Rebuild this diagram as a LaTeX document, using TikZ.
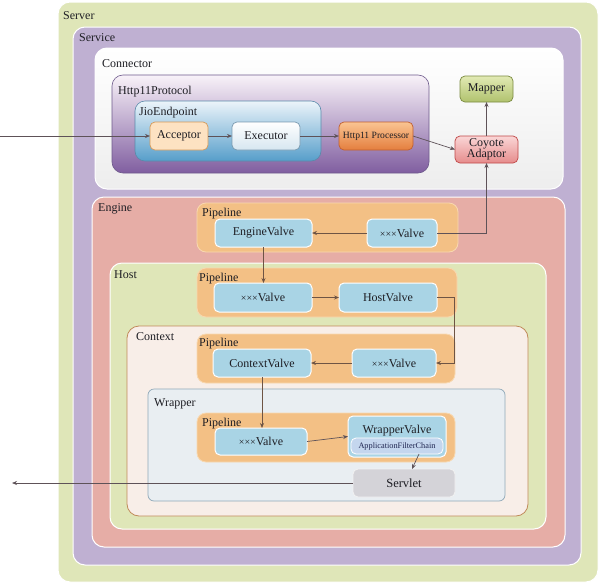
\documentclass[tikz,border=0pt]{standalone}
\usepackage{fontspec}
\setmainfont{Liberation Serif}
\usetikzlibrary{arrows.meta,calc}
\definecolor{serverC}{HTML}{DFE6B8}
\definecolor{serviceC}{HTML}{BFB0D2}
\definecolor{engineC}{HTML}{E6ADA6}
\definecolor{hostC}{HTML}{DFE6B8}
\definecolor{contextC}{HTML}{F8EEE8}
\definecolor{contextB}{HTML}{C08A5A}
\definecolor{wrapperC}{HTML}{E9EEF2}
\definecolor{wrapperB}{HTML}{8FA8B8}
\definecolor{pipeC}{HTML}{F3C085}
\definecolor{pipeB}{HTML}{F8D8B0}
\definecolor{valveC}{HTML}{A9D4E5}
\definecolor{servletC}{HTML}{D4D3D8}
\definecolor{arrC}{HTML}{5E5258}
\definecolor{arrE}{HTML}{6E5444}
\definecolor{txtC}{HTML}{1E1E24}
\tikzset{
  base/.style={anchor=north west, inner sep=0pt, outer sep=0pt},
  cont/.style={base, draw=white, line width=1pt, rounded corners=12pt},
  lbl/.style={anchor=base west, inner sep=0pt, text=txtC, font=\fontsize{12}{12}\selectfont},
  pipe/.style={base, fill=pipeC, draw=pipeB, line width=0.8pt, rounded corners=9pt},
  valve/.style={base, fill=valveC, draw=white, line width=1pt, rounded corners=5pt, text=txtC, font=\fontsize{12}{12}\selectfont},
  sbox/.style={base, line width=0.7pt, rounded corners=5pt, text=txtC, font=\fontsize{12}{12}\selectfont},
  arr/.style={draw=arrC, line width=0.7pt, -{Stealth[length=5pt,width=4pt]}},
  arre/.style={draw=arrE, line width=0.7pt, -{Stealth[length=5pt,width=4pt]}},
}
\newcommand{\bx}[7]{\node[#6, minimum width={#4pt-#2pt}, minimum height={#5pt-#3pt}] (#1) at (#2,#3) {#7};}
\newcommand{\xxx}{{\fontsize{10}{10}\selectfont ×××}}
\begin{document}
\begin{tikzpicture}[x=1pt,y=-1pt]
\useasboundingbox (0,0) rectangle (600,584);
% containers
\bx{server}{58}{2}{598}{582}{cont, fill=serverC}{}
\node[lbl] (serverL) at (63,19) {Server};
\bx{service}{73}{27}{581}{565}{cont, fill=serviceC}{}
\node[lbl] (serviceL) at (79,41) {Service};
\bx{connector}{95}{48}{563}{189}{cont, top color=white, bottom color=black!7}{}
\node[lbl] (connectorL) at (102,67) {Connector};
\bx{http}{112}{75}{429}{173}{base, rounded corners=11pt, draw={rgb,255:red,110;green,90;blue,140}, line width=0.6pt, top color=violet!5!white, bottom color={rgb,255:red,128;green,94;blue,160}}{}
\node[lbl] (httpL) at (118,94) {Http11Protocol};
\bx{jio}{135}{101}{321}{161}{base, rounded corners=10pt, draw={rgb,255:red,90;green,138;blue,170}, line width=0.6pt, top color={rgb,255:red,236;green,244;blue,250}, bottom color={rgb,255:red,86;green,158;blue,202}}{}
\node[lbl] (jioL) at (139,115) {JioEndpoint};
\bx{acc}{150}{122}{208}{150}{sbox, fill={rgb,255:red,253;green,226;blue,194}, draw={rgb,255:red,213;green,154;blue,90}}{Acceptor}
\bx{exe}{232}{122}{300}{150}{sbox, top color=white, bottom color={rgb,255:red,214;green,230;blue,240}, draw={rgb,255:red,122;green,154;blue,176}}{Executor}
\bx{proc}{339}{122}{413}{150}{sbox, top color={rgb,255:red,250;green,196;blue,146}, bottom color={rgb,255:red,228;green,126;blue,62}, draw={rgb,255:red,192;green,96;blue,48}, font=\fontsize{9.6}{10}\selectfont}{Http11 Processor}
\bx{coy}{455}{136}{518}{163}{sbox, top color={rgb,255:red,250;green,214;blue,214}, bottom color={rgb,255:red,230;green,140;blue,140}, draw={rgb,255:red,192;green,72;blue,72}, align=center, font=\fontsize{12}{11.5}\selectfont}{Coyote\\Adaptor}
\bx{map}{460}{76}{513}{102}{sbox, top color={rgb,255:red,226;green,234;blue,180}, bottom color={rgb,255:red,176;green,194;blue,110}, draw={rgb,255:red,122;green,138;blue,64}}{Mapper}
% engine
\bx{engine}{92}{197}{565}{547}{cont, fill=engineC}{}
\node[lbl] (engineL) at (98,211) {Engine};
\bx{epipe}{197}{203}{458}{252}{pipe}{}
\node[lbl] (epipeL) at (202,216) {Pipeline};
\bx{ev1}{215}{219}{312}{247}{valve}{EngineValve}
\bx{ev2}{367}{219}{437}{247}{valve}{\xxx Valve}
% host
\bx{host}{110}{263}{546}{529}{cont, fill=hostC}{}
\node[lbl] (hostL) at (114,278) {Host};
\bx{hpipe}{197}{268}{457}{317}{pipe}{}
\node[lbl] (hpipeL) at (199,281) {Pipeline};
\bx{hv1}{214}{283}{312}{312}{valve}{\xxx Valve}
\bx{hv2}{339}{283}{437}{312}{valve}{HostValve}
% context
\bx{context}{127}{326}{528}{516}{base, rounded corners=12pt, fill=contextC, draw=contextB, line width=0.8pt}{}
\node[lbl] (contextL) at (136,340) {Context};
\bx{cpipe}{197}{334}{455}{383}{pipe}{}
\node[lbl] (cpipeL) at (199,346) {Pipeline};
\bx{cv1}{213}{349}{311}{377}{valve}{ContextValve}
\bx{cv2}{352}{349}{436}{377}{valve}{\xxx Valve}
% wrapper
\bx{wrapper}{148}{389}{505}{501}{base, rounded corners=6pt, fill=wrapperC, draw=wrapperB, line width=0.7pt}{}
\node[lbl] (wrapperL) at (154,406) {Wrapper};
\bx{wpipe}{197}{413}{455}{462}{pipe}{}
\node[lbl] (wpipeL) at (202,426) {Pipeline};
\bx{wv1}{215}{428}{307}{455}{valve}{\xxx Valve}
\bx{wv2}{348}{416}{446}{457}{valve}{}
\node[anchor=base, inner sep=0pt, text=txtC, font=\fontsize{12}{12}\selectfont] (wv2L) at (397,433) {WrapperValve};
\bx{afc}{351}{438}{443}{454}{base, rounded corners=5pt, fill={rgb,255:red,196;green,214;blue,238}, draw=white, line width=0.8pt, text={rgb,255:red,30;green,36;blue,80}, font=\fontsize{8.3}{9}\selectfont}{ApplicationFilterChain}
\bx{servlet}{353}{469}{455}{497}{base, rounded corners=5pt, fill=servletC, draw=white!90!gray, line width=0.8pt, text=txtC, font=\fontsize{12.5}{12}\selectfont}{Servlet}
% connectors
\coordinate (in) at (0,136);
\coordinate (out) at (12,483);
\draw[arr] (in) -- (acc.west);
\draw[arr] (acc) -- (exe);
\draw[arr] (exe) -- (proc);
\draw[arr] (proc.east) -- (coy.west);
\draw[arr] (coy) -- (map);
\draw[arr] (ev2.east) -| (coy.south);
\draw[arre] (ev2) -- (ev1);
\draw[arre] (ev1.south) -- (ev1.south |- hv1.north);
\draw[arre] (hv1) -- (hv2);
\draw[arre] (hv2.east) -- ++(17,0) |- (cv2.east);
\draw[arre] (cv2) -- (cv1);
\draw[arre] (cv1.south) -- (cv1.south |- wv1.north);
\draw[arr] (wv1.east) -- (wv2.west);
\draw[arr] ($(afc.south)+(22,0)$) -- ($(servlet.north)+(8,0)$);
\draw[arr] (servlet.west) -- (out);
\end{tikzpicture}
\end{document}
